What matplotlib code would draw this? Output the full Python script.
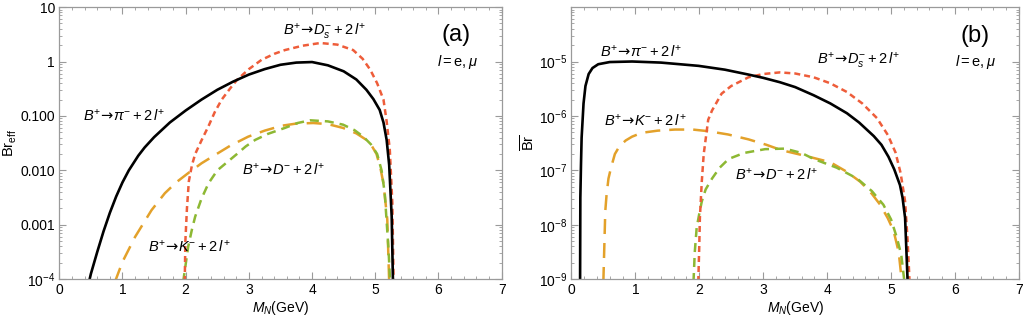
import numpy as np
import matplotlib
matplotlib.use("Agg")
import matplotlib.pyplot as plt
from matplotlib.ticker import FixedLocator, LogLocator, NullFormatter, MultipleLocator

plt.rcParams["font.family"] = ["Liberation Sans", "DejaVu Sans"]
plt.rcParams["mathtext.fontset"] = "custom"
plt.rcParams["mathtext.rm"] = "Liberation Sans"
plt.rcParams["mathtext.it"] = "Liberation Sans:italic"
plt.rcParams["mathtext.bf"] = "Liberation Sans:bold"
plt.rcParams["mathtext.sf"] = "DejaVu Sans"

# ==============================
# Data, y given as log10
# ==============================
# panel (a): effective branching ratio
a_pi_x = [0.47, 0.5, 0.6, 0.7, 0.8, 0.9, 1.0, 1.1, 1.25, 1.35, 1.5, 1.75, 2.0, 2.25, 2.5, 2.75, 3.0, 3.25,
          3.5, 3.75, 4.0, 4.25, 4.5, 4.7, 4.86, 4.97, 5.07, 5.13, 5.18, 5.22, 5.26, 5.28]
a_pi_y = [-4.05, -3.9, -3.5, -3.12, -2.78, -2.48, -2.22, -2.0, -1.73, -1.58, -1.39, -1.12, -0.9, -0.70,
          -0.52, -0.37, -0.24, -0.14, -0.06, -0.02, -0.01, -0.07, -0.18, -0.33, -0.52, -0.69, -0.89, -1.12,
          -1.44, -1.9, -2.85, -4.05]

a_ds_x = [1.985, 1.995, 2.02, 2.05, 2.1, 2.15, 2.25, 2.36, 2.46, 2.57, 2.7, 2.81, 3.0, 3.2, 3.4, 3.57,
          3.85, 4.13, 4.4, 4.65, 4.8, 4.92, 5.03, 5.13, 5.18, 5.23, 5.27, 5.29]
a_ds_y = [-4.05, -3.3, -2.7, -2.2, -1.9, -1.7, -1.45, -1.19, -0.93, -0.70, -0.5, -0.34, -0.14, 0.03, 0.14,
          0.21, 0.29, 0.34, 0.31, 0.21, 0.05, -0.15, -0.4, -0.70, -1.1, -1.62, -2.6, -4.05]

a_k_x = [0.88, 1.0, 1.2, 1.46, 1.67, 1.85, 2.04, 2.25, 2.46, 2.7, 2.99, 3.25, 3.52, 3.75, 4.02, 4.25,
         4.49, 4.7, 4.86, 4.95, 5.02, 5.08, 5.13, 5.19, 5.22]
a_k_y = [-4.05, -3.68, -3.22, -2.73, -2.42, -2.22, -2.05, -1.87, -1.72, -1.55, -1.38, -1.27, -1.18, -1.14,
         -1.13, -1.15, -1.22, -1.32, -1.44, -1.56, -1.7, -1.95, -2.24, -2.9, -4.05]

a_d_x = [1.96, 2.04, 2.1, 2.15, 2.25, 2.36, 2.5, 2.8, 2.95, 3.1, 3.3, 3.57, 3.77, 3.97, 4.25, 4.49,
         4.67, 4.81, 4.93, 5.03, 5.1, 5.15, 5.21, 5.235]
a_d_y = [-4.05, -3.40, -3.08, -2.85, -2.52, -2.24, -2.0, -1.71, -1.56, -1.44, -1.33, -1.22, -1.13, -1.08,
         -1.1, -1.16, -1.26, -1.38, -1.52, -1.7, -2.0, -2.42, -3.46, -4.05]

# panel (b): branching ratio
b_pi_x = [0.136, 0.14, 0.15, 0.16, 0.19, 0.22, 0.27, 0.33, 0.42, 0.6, 0.95, 1.4, 1.99, 2.4, 2.77, 3.0,
          3.26, 3.5, 3.79, 4.05, 4.31, 4.5, 4.73, 4.85, 4.96, 5.05, 5.14, 5.18, 5.22, 5.26]
b_pi_y = [-9.05, -7.5, -6.9, -6.4, -5.77, -5.45, -5.23, -5.12, -5.05, -5.01, -5.0, -5.02, -5.08, -5.15,
          -5.24, -5.3, -5.38, -5.47, -5.62, -5.77, -5.95, -6.12, -6.37, -6.53, -6.75, -6.98, -7.27, -7.5,
          -7.87, -9.05]

b_ds_x = [1.985, 2.0, 2.01, 2.04, 2.07, 2.14, 2.2, 2.35, 2.5, 2.77, 3.0, 3.26, 3.5, 3.79, 4.05, 4.31,
          4.55, 4.78, 4.95, 5.07, 5.15, 5.22, 5.26, 5.29]
b_ds_y = [-9.05, -8.4, -7.87, -7.2, -6.7, -6.07, -5.9, -5.59, -5.45, -5.29, -5.23, -5.20, -5.22, -5.29,
          -5.4, -5.56, -5.77, -6.04, -6.35, -6.67, -7.05, -7.57, -8.3, -9.05]

b_k_x = [0.50, 0.53, 0.55, 0.58, 0.62, 0.68, 0.75, 0.85, 0.95, 1.1, 1.35, 1.62, 1.9, 2.14, 2.45, 2.77,
         3.05, 3.29, 3.65, 4.05, 4.3, 4.52, 4.7, 4.83, 4.95, 5.04, 5.12, 5.17]
b_k_y = [-9.05, -7.75, -7.45, -7.15, -6.95, -6.7, -6.56, -6.45, -6.38, -6.31, -6.27, -6.25, -6.25, -6.28,
         -6.34, -6.43, -6.53, -6.63, -6.73, -6.85, -7.02, -7.21, -7.43, -7.63, -7.88, -8.11, -8.5, -9.05]

b_d_x = [1.91, 1.93, 1.96, 2.0, 2.04, 2.1, 2.2, 2.32, 2.46, 2.7, 3.03, 3.34, 3.6, 3.79, 4.15, 4.47,
         4.7, 4.88, 5.0, 5.09, 5.16, 5.21]
b_d_y = [-9.05, -8.5, -8.05, -7.8, -7.57, -7.35, -7.15, -6.95, -6.79, -6.68, -6.61, -6.60, -6.68, -6.79,
         -6.95, -7.15, -7.38, -7.63, -7.9, -8.23, -8.55, -9.05]

# ==============================
# Styles
# ==============================
C_PI = "black"
C_DS = "#EE5D3A"
C_K = "#E3A12A"
C_D = "#8DB833"
FRAME = "#9a9a9a"
FS = 10.5

ARR = r"\!\mathsf{\rightarrow}\!"
lab_pi = r"$B^{+}" + ARR + r"\pi^{-}+2\,l^{+}$"
lab_ds = r"$B^{+}" + ARR + r"D_s^{-}+2\,l^{+}$"
lab_k = r"$B^{+}" + ARR + r"K^{-}+2\,l^{+}$"
lab_d = r"$B^{+}" + ARR + r"D^{-}+2\,l^{+}$"
lab_l = r"$l=\mathrm{e},\mu$"

fig = plt.figure(figsize=(10.24, 3.21), dpi=100)
ax_a = fig.add_axes([0.0579, 0.130, 0.432, 0.848])
ax_b = fig.add_axes([0.558, 0.130, 0.437, 0.848])


def curves(ax, sets):
    for x, y, c, dash in sets:
        yy = 10.0 ** np.array(y)
        if dash is None:
            ax.plot(x, yy, color=c, lw=1.9, solid_joinstyle="round")
        else:
            ax.plot(x, yy, color=c, lw=1.8, dashes=dash)


def frame(ax):
    ax.set_yscale("log")
    ax.set_xlim(0, 7)
    ax.xaxis.set_major_locator(MultipleLocator(1))
    ax.xaxis.set_minor_locator(MultipleLocator(0.2))
    ax.yaxis.set_minor_locator(LogLocator(base=10, subs=np.arange(2, 10)))
    ax.yaxis.set_minor_formatter(NullFormatter())
    for s in ax.spines.values():
        s.set_color(FRAME)
        s.set_linewidth(0.9)
    ax.tick_params(which="both", direction="in", top=True, right=True,
                   color=FRAME, labelsize=10, pad=3)
    ax.tick_params(which="major", length=5, width=0.8)
    ax.tick_params(which="minor", length=2.5, width=0.6)
    ax.set_xlabel(r"$M_N$(GeV)", fontsize=10, labelpad=1)


# ==============================
# Panel (a)
# ==============================
curves(ax_a, [
    (a_k_x, a_k_y, C_K, (6, 3.6)),
    (a_d_x, a_d_y, C_D, (3.6, 2.4)),
    (a_ds_x, a_ds_y, C_DS, (2.4, 1.6)),
    (a_pi_x, a_pi_y, C_PI, None),
])
frame(ax_a)
ax_a.set_ylim(1e-4, 10)
ax_a.yaxis.set_major_locator(FixedLocator([1e-4, 1e-3, 1e-2, 1e-1, 1, 10]))
ax_a.set_yticklabels([r"$10^{-4}$", "0.001", "0.010", "0.100", "1", "10"])
ax_a.set_ylabel(r"$\overline{\mathrm{Br}}_{\mathrm{eff}}$", fontsize=10.5, labelpad=1)

ax_a.text(0.37, 0.1, lab_pi, fontsize=FS, va="center")
ax_a.text(3.54, 3.5, lab_ds, fontsize=FS, va="center")
ax_a.text(2.89, 0.0102, lab_d, fontsize=FS, va="center")
ax_a.text(1.41, 4e-4, lab_k, fontsize=FS, va="center")
ax_a.text(6.28, 3.1, "(a)", fontsize=17, ha="center", va="center")
ax_a.text(6.3, 1.0, lab_l, fontsize=FS, ha="center", va="center")

# ==============================
# Panel (b)
# ==============================
curves(ax_b, [
    (b_k_x, b_k_y, C_K, (6, 3.6)),
    (b_d_x, b_d_y, C_D, (3.6, 2.4)),
    (b_ds_x, b_ds_y, C_DS, (2.4, 1.6)),
    (b_pi_x, b_pi_y, C_PI, None),
])
frame(ax_b)
ax_b.set_ylim(1e-9, 1e-4)
ax_b.yaxis.set_major_locator(FixedLocator([1e-9, 1e-8, 1e-7, 1e-6, 1e-5]))
ax_b.set_yticklabels([r"$10^{-9}$", r"$10^{-8}$", r"$10^{-7}$", r"$10^{-6}$", r"$10^{-5}$"])
ax_b.set_ylabel(r"$\overline{\mathrm{Br}}$", fontsize=10.5, labelpad=1)

ax_b.text(0.45, 10 ** -4.81, lab_pi, fontsize=FS, va="center")
ax_b.text(0.51, 10 ** -6.09, lab_k, fontsize=FS, va="center")
ax_b.text(3.84, 10 ** -4.99, lab_ds, fontsize=FS, va="center")
ax_b.text(2.56, 10 ** -7.08, lab_d, fontsize=FS, va="center")
ax_b.text(6.32, 10 ** -4.54, "(b)", fontsize=17, ha="center", va="center")
ax_b.text(6.32, 10 ** -5.0, lab_l, fontsize=FS, ha="center", va="center")

fig.savefig("out.png", dpi=100)
